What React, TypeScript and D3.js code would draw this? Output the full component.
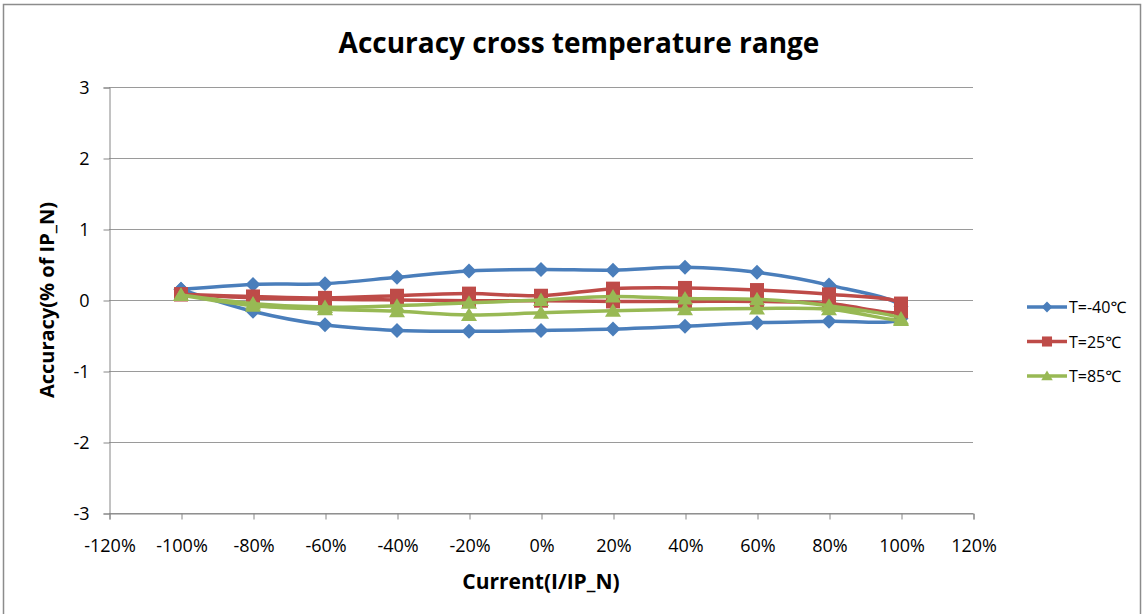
import { useEffect, useRef } from "react";
import * as d3 from "d3";

// current, fraction of IP_N (forward sweep -100% -> 100%, then back)
const currentUp = [-1, -0.8, -0.6, -0.4, -0.2, 0, 0.2, 0.4, 0.6, 0.8, 1];
const currentDown = [1, 0.8, 0.6, 0.4, 0.2, 0, -0.2, -0.4, -0.6, -0.8, -1];

const coldUp = [0.15, 0.22, 0.23, 0.32, 0.41, 0.43, 0.42, 0.46, 0.39, 0.21, -0.09];
const coldDown = [-0.26, -0.3, -0.32, -0.37, -0.41, -0.43, -0.44, -0.43, -0.35, -0.16, 0.15];

const roomUp = [0.08, 0.05, 0.03, 0.06, 0.09, 0.06, 0.16, 0.17, 0.14, 0.08, -0.05];
const roomDown = [-0.16, -0.05, -0.02, -0.02, -0.02, -0.01, -0.01, 0.0, 0.01, 0.03, 0.08];

const hotUp = [0.07, -0.05, -0.1, -0.08, -0.04, 0.0, 0.05, 0.02, 0.01, -0.08, -0.26];
const hotDown = [-0.28, -0.13, -0.12, -0.13, -0.15, -0.18, -0.21, -0.16, -0.13, -0.08, 0.07];

const seriesNames = ["T=-40℃", "T=25℃", "T=85℃"];
const seriesColors = ["#4a7ebb", "#be4b48", "#98b954"];
const seriesMarkers = ["diamond", "square", "triangle"];

const xTicks = [-1.2, -1, -0.8, -0.6, -0.4, -0.2, 0, 0.2, 0.4, 0.6, 0.8, 1, 1.2];
const yTicks = [-3, -2, -1, 0, 1, 2, 3];

const markerPath: Record<string, string> = {
  diamond: "M0,-7.5L7.5,0L0,7.5L-7.5,0Z",
  square: "M-7,-7H7V7H-7Z",
  triangle: "M0,-7.5L8,6L-8,6Z",
};

const font = "'Open Sans', 'Noto Sans', sans-serif";

export default function App() {
  const svgRef = useRef<SVGSVGElement>(null);

  useEffect(() => {
    if (!svgRef.current) return;
    const svg = d3.select(svgRef.current);
    svg.selectAll("*").remove();

    const left = 109;
    const right = 973;
    const top = 87;
    const bottom = 513;

    const x = d3.scaleLinear().domain([-1.2, 1.2]).range([left, right]);
    const y = d3.scaleLinear().domain([-3, 3]).range([bottom, top]);

    // chart frame
    svg
      .append("rect")
      .attr("x", 3.5)
      .attr("y", 4.5)
      .attr("width", 1137)
      .attr("height", 640)
      .attr("fill", "#fff")
      .attr("stroke", "#8c8c8c")
      .attr("stroke-width", 1.5);

    // horizontal gridlines
    svg
      .append("g")
      .selectAll("line")
      .data(yTicks)
      .enter()
      .append("line")
      .attr("x1", left)
      .attr("x2", right)
      .attr("y1", (d) => Math.round(y(d)) + 0.5)
      .attr("y2", (d) => Math.round(y(d)) + 0.5)
      .attr("stroke", "#9a9a9a")
      .attr("stroke-width", 1);

    // y axis
    const yAxis = svg
      .append("g")
      .attr("transform", `translate(${left + 0.5},0.5)`)
      .call(
        d3
          .axisLeft(y)
          .tickValues(yTicks)
          .tickSize(6)
          .tickPadding(14)
          .tickFormat((d) => String(d))
      );
    yAxis.select(".domain").attr("stroke", "#868686");
    yAxis.selectAll(".tick line").attr("stroke", "#868686");
    yAxis
      .selectAll(".tick text")
      .attr("fill", "#000")
      .style("font-family", font)
      .style("font-size", "18px");

    // x axis (at bottom)
    const xAxis = svg
      .append("g")
      .attr("transform", `translate(0.5,${bottom + 0.5})`)
      .call(
        d3
          .axisBottom(x)
          .tickValues(xTicks)
          .tickSize(6)
          .tickPadding(20)
          .tickFormat((d) => `${Math.round(+d * 100)}%`)
      );
    xAxis.select(".domain").attr("stroke", "#868686");
    xAxis.selectAll(".tick line").attr("stroke", "#868686");
    xAxis
      .selectAll(".tick text")
      .attr("fill", "#000")
      .style("font-family", font)
      .style("font-size", "18px");

    // series
    const groups = [
      { up: coldUp, down: coldDown },
      { up: roomUp, down: roomDown },
      { up: hotUp, down: hotDown },
    ];

    const line = d3
      .line<[number, number]>()
      .x((d) => x(d[0]))
      .y((d) => y(d[1]))
      .curve(d3.curveCatmullRom.alpha(0.5));

    groups.forEach((g, i) => {
      const pts: [number, number][] = [
        ...currentUp.map((c, j) => [c, g.up[j]] as [number, number]),
        ...currentDown.map((c, j) => [c, g.down[j]] as [number, number]),
      ];
      const sg = svg.append("g");
      sg.append("path")
        .attr("d", line(pts) ?? "")
        .attr("fill", "none")
        .attr("stroke", seriesColors[i])
        .attr("stroke-width", 3.5)
        .attr("stroke-linejoin", "round");
      sg.selectAll("path.m")
        .data(pts)
        .enter()
        .append("path")
        .attr("class", "m")
        .attr("d", markerPath[seriesMarkers[i]])
        .attr("transform", (d) => `translate(${x(d[0])},${y(d[1])})`)
        .attr("fill", seriesColors[i]);
    });

    // title
    svg
      .append("text")
      .attr("x", 579)
      .attr("y", 53)
      .attr("text-anchor", "middle")
      .style("font-family", font)
      .style("font-weight", "bold")
      .style("font-size", "28px")
      .text("Accuracy cross temperature range");

    // axis titles
    svg
      .append("text")
      .attr("x", 541)
      .attr("y", 589)
      .attr("text-anchor", "middle")
      .style("font-family", font)
      .style("font-weight", "bold")
      .style("font-size", "21px")
      .text("Current(I/IP_N)");

    svg
      .append("text")
      .attr("transform", `translate(54,${(top + bottom) / 2}) rotate(-90)`)
      .attr("text-anchor", "middle")
      .style("font-family", font)
      .style("font-weight", "bold")
      .style("font-size", "20px")
      .text("Accuracy(% of IP_N)");

    // legend
    const legend = svg
      .append("g")
      .attr("transform", "translate(1027,307)");
    seriesNames.forEach((name, i) => {
      const row = legend.append("g").attr("transform", `translate(0,${i * 34.5})`);
      row
        .append("line")
        .attr("x1", 0)
        .attr("x2", 40)
        .attr("stroke", seriesColors[i])
        .attr("stroke-width", 3.5);
      row
        .append("path")
        .attr("d", markerPath[seriesMarkers[i]])
        .attr("transform", "translate(20,0) scale(0.72)")
        .attr("fill", seriesColors[i]);
      row
        .append("text")
        .attr("x", 42)
        .attr("y", 6)
        .style("font-family", font)
        .style("font-size", "16px")
        .text(name);
    });
  }, []);

  return (
    <svg
      ref={svgRef}
      width={1143}
      height={614}
      style={{ position: "absolute", left: 0, top: 0, background: "#fff" }}
    />
  );
}
